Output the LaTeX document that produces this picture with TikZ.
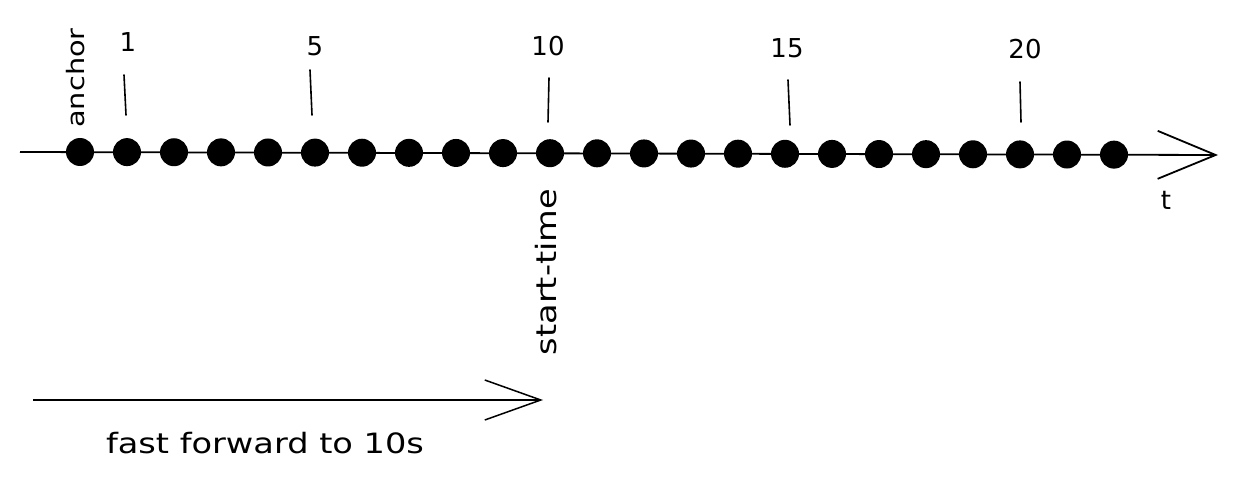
\documentclass[tikz,border=0pt]{standalone}
\usepackage{fontspec}
\setmainfont{DejaVu Sans}
\newfontfamily\widefont{DejaVu Sans}[FakeStretch=1.2]
\usetikzlibrary{arrows.meta}
\begin{document}
\begin{tikzpicture}[x=1pt,y=-1pt,
  dot/.style={circle,fill=black,inner sep=0pt,minimum size=28pt},
  lbl/.style={font=\fontsize{26}{28}\selectfont,inner sep=0pt},
  wlbl/.style={font=\widefont\fontsize{28}{30}\selectfont,inner sep=0pt},
  tick/.style={line width=1.6pt,line cap=round},
  axisline/.style={line width=1.8pt,-{Straight Barb[length=58pt,width=48pt,line width=1.8pt]}},
  ffline/.style={line width=1.5pt,-{Straight Barb[length=56pt,width=40pt,line width=1.5pt]}}]
\useasboundingbox (0,0) rectangle (1238,486);
\fill[white] (0,0) rectangle (1238,486);
% axis
\coordinate (axs) at (20,152);
\coordinate (axe) at (1218,155);
\draw[axisline] (axs) -- (axe);
% dots
\foreach \i in {0,...,22} {
  \node[dot] (d\i) at ({80+47*\i},{152+0.12*\i}) {};
}
% ticks
\draw[tick] (124,75) -- (126,115);
\draw[tick] (310,70) -- (312,115);
\draw[tick] (549,78) -- (548,122);
\draw[tick] (788,80) -- (790,125);
\draw[tick] (1020,82) -- (1021,122);
% tick labels
\node[lbl] (l1) at (128,42) {1};
\node[lbl] (l5) at (315,46) {5};
\node[lbl] (l10) at (548,46) {10};
\node[lbl] (l15) at (787,48) {15};
\node[lbl] (l20) at (1025,49) {20};
\node[wlbl,font=\widefont\fontsize{24}{26}\selectfont,rotate=90] (anc) at (76,78) {anchor};
\node[wlbl,rotate=90] (st) at (546,272) {start-time};
\node[lbl] (t) at (1166,200) {t};
% fast forward arrow
\coordinate (ffs) at (33,400);
\coordinate (ffe) at (543,400);
\draw[ffline] (ffs) -- (ffe);
\node[wlbl] (ff) at (265,443) {fast forward to 10s};
\end{tikzpicture}
\end{document}
